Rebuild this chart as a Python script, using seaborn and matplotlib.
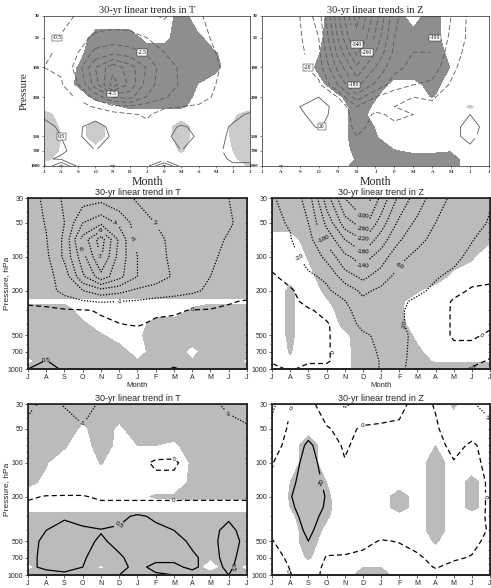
import numpy as np
import matplotlib
matplotlib.use("Agg")
import matplotlib.pyplot as plt
from matplotlib.ticker import NullLocator, NullFormatter
import seaborn as sns

# grid: 13 months (Jul..Jul) x 13 pressure levels (top row = 30 hPa)
months = ["J", "A", "S", "O", "N", "D", "J", "F", "M", "A", "M", "J", "J"]
pressure = [30, 50, 70, 100, 150, 200, 250, 300, 400, 500, 700, 850, 1000]
p_ticks = [30, 50, 100, 200, 500, 700, 1000]

# --- top row: 30-yr linear trends (first figure) ---
t_top = [
    [0.0, -0.2, -0.6, -0.8, -0.9, -1.0, -0.7, -0.4, -1.0, -0.6, -0.2, 0.1, 0.2],
    [-0.2, -0.6, -1.0, -1.8, -2.0, -1.8, -1.5, -1.2, -1.3, -0.9, -0.3, 0.0, 0.1],
    [-0.3, -0.7, -1.5, -2.8, -3.2, -3.0, -2.3, -1.5, -1.4, -1.1, -0.5, -0.1, 0.0],
    [-0.5, -0.6, -2.0, -4.5, -6.2, -5.0, -3.4, -1.8, -1.4, -1.2, -0.6, -0.2, -0.1],
    [-0.3, -0.4, -1.5, -4.0, -7.0, -5.2, -3.0, -1.9, -1.4, -1.0, -0.5, -0.2, -0.1],
    [-0.1, -0.2, -0.6, -1.8, -3.5, -3.8, -2.4, -1.6, -1.1, -0.8, -0.4, -0.1, 0.0],
    [0.1, 0.0, -0.2, -0.6, -1.2, -1.3, -0.9, -0.6, -0.5, -0.4, -0.2, 0.0, 0.2],
    [0.4, 0.2, 0.1, 0.2, -0.1, -0.4, -0.6, -0.2, -0.1, 0.0, 0.1, 0.3, 0.6],
    [0.7, 0.4, 0.4, 0.8, 0.3, 0.0, -0.3, 0.2, 0.6, 0.3, 0.2, 0.6, 0.8],
    [0.9, 0.5, 0.4, 0.9, 0.4, 0.0, -0.2, 0.3, 0.8, 0.4, 0.2, 0.7, 1.0],
    [1.0, 0.6, 0.3, 0.5, 0.3, 0.0, -0.3, 0.2, 0.5, 0.2, 0.3, 0.8, 1.0],
    [0.6, 0.4, 0.1, 0.2, 0.1, -0.2, -0.4, 0.1, 0.2, 0.1, 0.3, 0.6, 0.7],
    [0.3, 2.8, 0.2, 0.0, -0.6, 0.1, 0.2, 2.8, 0.1, 0.0, 0.2, 0.4, 0.3],
]
t_top_sig = [
    [0, 0, 0, 0, 0, 0, 0, 0, -1, 0, 0, 0, 0],
    [0, 0, 0, -1, -1, -1, -0.3, -0.3, -1, -0.8, 0, 0, 0],
    [0, 0, -0.3, -1, -1, -1, -1, -1, -1, -1, -0.6, 0, 0],
    [0, 0, -0.6, -1, -1, -1, -1, -1, -1, -1, -0.8, 0, 0],
    [0, 0, -0.7, -1, -1, -1, -1, -1, -1, -0.5, 0, 0, 0],
    [0, 0, 0, -0.9, -1, -1, -1, -1, -1, -0.3, 0, 0, 0],
    [0, 0, 0, 0, -0.4, -0.8, -0.8, -0.8, -0.8, 0, 0, 0, 0],
    [1, 0, 0, 0, 0, 0, 0, 0, 0, 0, 0, 0.3, 1],
    [1, 0.4, 0, 1, 0, 0, 0, 0, 1, 0, 0, 0.6, 1],
    [1, 0.5, 0, 1, 0, 0, 0, 0, 1, 0, 0, 0.6, 1],
    [1, 0.4, 0, 0, 0, 0, 0, 0, 0.6, 0, 0, 0.5, 1],
    [0.8, 0, 0, 0, 0, 0, 0, 0, 0, 0, 0, 0.3, 1],
    [0, 0, 0, 0, 0, 0, 0, 0, 0, 0, 0, 0, 0.6],
]
z_top = [
    [0, -5, -20, -80, -250, -400, -280, -150, -110, -110, -60, -10, 10],
    [5, 2, -15, -60, -220, -360, -250, -140, -110, -110, -50, -10, 5],
    [10, 5, -10, -50, -190, -310, -220, -130, -100, -100, -40, -5, 5],
    [15, 10, -5, -40, -150, -250, -180, -110, -90, -80, -30, 2, 10],
    [20, 15, 2, -10, -100, -190, -130, -80, -60, -50, -15, 10, 15],
    [18, 18, 15, 20, -20, -120, -60, -30, -20, -25, 2, 15, 20],
    [15, 18, 20, 25, 16, -60, -30, -20, -15, -10, 5, 20, 20],
    [10, 15, 18, 25, 15, -40, -15, -25, -20, -5, 10, 20, 20],
    [5, 10, 12, 22, 10, -30, -10, -15, -10, 2, 15, 25, 15],
    [2, 5, 8, 10, 2, -20, -5, -5, 2, 5, 15, 25, 10],
    [2, 5, 5, 2, -5, -15, -5, 2, 5, 2, 10, 15, 5],
    [-5, 5, 2, -5, -5, -10, -5, -5, 2, -5, 5, 10, 2],
    [-10, 10, -5, -10, -5, -10, -10, -5, -5, -5, 2, 5, 2],
]
z_top_sig = [
    [0, 0, 0, -0.3, -1, -1, -1, -1, -0.2, -1, 0, 0, 0],
    [0, 0, 0, -0.4, -1, -1, -1, -1, -1, -1, 0, 0, 0],
    [0, 0, 0, -0.5, -1, -1, -1, -1, -1, -1, -0.3, 0, 0],
    [0, 0, 0, -0.7, -1, -1, -1, -1, -1, -1, -0.5, 0, 0],
    [0, 0, 0, -0.3, -1, -1, -1, -0.3, -0.3, -0.8, -0.2, 0, 0],
    [0, 0, 0, 0, -0.4, -1, -0.6, 0, 0, -0.6, 0, 0, 0],
    [0, 0, 0, 0, 0, -1, -0.4, 0, 0, 0, 0, 0.6, 0],
    [0, 0, 0, 0, 0, -1, -0.2, 0, 0, 0, 0, 0, 0],
    [0, 0, 0, 0, 0, -1, -0.5, 0, 0, 0, 0, 0, 0],
    [0, 0, 0, 0, 0, -1, -0.6, 0, 0, 0, 0, 0, 0],
    [0, 0, 0, 0, 0, -0.8, -1, -0.6, -0.4, -0.4, -0.5, 0, 0],
    [0, 0, 0, 0, 0, -0.6, -1, -1, -1, -1, -1, 0, 0],
    [0, -0.7, 0, 0, 0, -1, -1, -1, -1, -1, -1, 0, 0],
]

# --- middle row: 30-yr linear trend ---
t_mid = [
    [-0.6, -1.2, -2.2, -2.6, -2.7, -2.3, -1.9, -1.7, -1.5, -1.4, -1.2, -1.0, -0.8],
    [-0.6, -1.05, -2.0, -4.0, -4.8, -3.8, -2.5, -2.0, -1.7, -1.5, -1.3, -1.1, -0.7],
    [-0.5, -0.95, -2.2, -5.4, -7.5, -4.8, -2.6, -2.2, -1.8, -1.6, -1.3, -0.9, -0.6],
    [-0.4, -0.8, -2.2, -4.6, -7.1, -4.6, -3.0, -2.3, -1.8, -1.6, -1.2, -0.7, -0.5],
    [-0.3, -0.7, -1.4, -3.8, -5.6, -4.3, -3.0, -2.4, -1.9, -1.6, -1.0, -0.6, -0.4],
    [-0.3, -0.6, -1.3, -2.0, -2.6, -2.3, -1.8, -1.6, -1.4, -1.2, -0.8, -0.5, -0.3],
    [-0.1, -0.2, -0.6, -0.9, -1.1, -1.0, -0.9, -0.7, -0.6, -0.4, -0.3, -0.05, 0.05],
    [0.15, 0.15, 0.1, 0.05, -0.05, -0.2, -0.35, -0.1, -0.05, 0.02, 0.05, 0.1, 0.15],
    [0.2, 0.2, 0.2, 0.15, 0.1, 0.02, -0.05, 0.1, 0.1, 0.15, 0.15, 0.2, 0.2],
    [0.25, 0.25, 0.25, 0.25, 0.25, 0.25, 0.25, 0.25, 0.25, 0.25, 0.25, 0.25, 0.25],
    [0.3, 0.3, 0.3, 0.3, 0.3, 0.3, 0.3, 0.3, 0.3, 0.3, 0.3, 0.3, 0.3],
    [0.35, 0.52, 0.3, 0.3, 0.3, 0.3, 0.3, 0.3, 0.35, 0.3, 0.3, 0.3, 0.3],
    [0.5, 0.75, 0.4, 0.3, 0.3, 0.3, 0.3, 0.35, 0.55, 0.35, 0.3, 0.3, 0.3],
]
t_mid_sig = [
    [1, 1, 1, 1, 1, 1, 1, 1, 1, 1, 1, 1, 1],
    [1, 1, 1, 1, 1, 1, 1, 1, 1, 1, 1, 1, 1],
    [1, 1, 1, 1, 1, 1, 1, 1, 1, 1, 1, 1, 1],
    [1, 1, 1, 1, 1, 1, 1, 1, 1, 1, 1, 1, 1],
    [1, 1, 1, 1, 1, 1, 1, 1, 1, 1, 1, 1, 1],
    [1, 1, 1, 1, 1, 1, 1, 1, 1, 1, 1, 1, 1],
    [0.3, 0.3, 0.3, 0.3, 0.3, 0.3, 0.3, 0.3, 0.3, 0.3, 0.3, 0.3, 0.3],
    [1, 1, 1, 0, 0, 0, 0, 0, 0, 0.6, 1, 1, 1],
    [1, 1, 1, 0.7, 0, 0, 0, 1, 1, 1, 1, 1, 1],
    [1, 1, 1, 1, 0.6, 0, 0.3, 1, 1, 1, 1, 1, 1],
    [1, 1, 1, 1, 1, 1, 0, 1, 1, 0.2, 1, 1, 1],
    [0.2, 1, 0.45, 1, 1, 1, 0.6, 1, 1, 0.6, 1, 1, 0.3],
    [1, 1, 1, 1, 1, 1, 1, 1, 1, 1, 1, 1, 1],
]
z_mid = [
    [-18, -28, -80, -200, -300, -340, -250, -170, -120, -80, -50, -30, -22],
    [-15, -22, -60, -150, -240, -280, -200, -130, -90, -60, -40, -28, -18],
    [-10, -18, -45, -110, -180, -220, -160, -105, -70, -50, -35, -21, -12],
    [-5, -10, -30, -70, -130, -160, -120, -70, -50, -35, -25, -15, -5],
    [2, -5, -15, -25, -80, -110, -80, -45, -35, -22, -15, -5, -2],
    [5, 2, -8, -15, -35, -70, -50, -30, -25, -15, -5, 2, 2],
    [5, 5, -5, -10, -18, -50, -35, -25, -15, -10, 2, 5, 2],
    [5, 5, 2, -5, -12, -35, -30, -22, -15, -8, 2, 5, 2],
    [5, 5, 2, 2, -10, -25, -26, -22, -15, -8, 2, 5, 2],
    [5, 5, 2, 2, -8, -17, -24, -24, -16, -8, 2, 2, -2],
    [5, 5, 5, 2, -8, -14, -22, -24, -15, -10, -5, -5, -5],
    [2, 5, 2, 2, -8, -12, -21, -24, -14, -10, -8, -5, 2],
    [-5, 2, -5, -5, -8, -12, -21, -23, -14, -12, -8, 2, 2],
]
z_mid_sig = [
    [1, 1, 1, 1, 1, 1, 1, 1, 1, 1, 1, 1, 1],
    [1, 1, 1, 1, 1, 1, 1, 1, 1, 1, 1, 1, 1],
    [0, 0, 1, 1, 1, 1, 1, 1, 1, 1, 1, 1, 0.6],
    [0, 0, 0.55, 1, 1, 1, 1, 1, 1, 1, 1, 0.6, 0],
    [0, 0.3, 0.2, 1, 1, 1, 1, 1, 1, 1, 0.2, 0, 0],
    [0, 0.65, 0, 0.7, 1, 1, 1, 1, 0.6, 0, 0, 0, 0],
    [0, 0.65, 0, 0.4, 1, 1, 1, 0.7, 0, 0, 0, 0, 0],
    [0, 0.65, 0, 0.1, 1, 1, 1, 0.65, 0, 0, 0, 0, 0],
    [0, 0.65, 0, 0, 0.7, 1, 1, 0.8, 0, 0, 0, 0, 0],
    [0, 0.65, 0, 0, 0.3, 1, 1, 1, 0.3, 0, 0, 0, 0],
    [0, 0.55, 0, 0, 0.2, 1, 1, 1, 0.7, 0, 0, 0, 0],
    [0, 0.4, 0, 0, 0.2, 1, 1, 1, 0.8, 0.4, 0.4, 0.4, 0.4],
    [0, 0, 0, 0, 0.2, 1, 1, 1, 1, 1, 1, 1, 1],
]

# --- bottom row: 30-yr linear trend ---
t_bot = [
    [-1.15, -0.8, -1.05, -1.3, -0.9, -0.9, -0.8, -0.7, -0.7, -0.8, -0.9, -1.1, -1.3],
    [-0.8, -0.6, -0.6, -0.9, -0.6, -0.5, -0.6, -0.6, -0.6, -0.6, -0.7, -0.8, -0.9],
    [-0.6, -0.4, -0.3, -0.4, -0.4, -0.3, -0.4, -0.4, -0.3, -0.5, -0.6, -0.6, -0.7],
    [-0.5, -0.3, -0.2, -0.2, -0.3, -0.2, -0.2, 0.1, 0.1, -0.3, -0.5, -0.5, -0.5],
    [-0.4, -0.3, -0.2, -0.2, -0.3, -0.2, -0.2, -0.2, -0.2, -0.3, -0.4, -0.4, -0.4],
    [-0.05, 0.02, 0.02, 0.02, -0.05, -0.05, -0.05, -0.05, -0.05, -0.05, -0.05, -0.05, -0.05],
    [0.1, 0.1, 0.1, 0.1, 0.1, 0.1, 0.1, 0.1, 0.1, 0.1, 0.1, 0.1, 0.1],
    [0.25, 0.3, 0.45, 0.3, 0.3, 0.35, 0.6, 0.4, 0.3, 0.25, 0.3, 0.45, 0.3],
    [0.3, 0.5, 0.65, 0.6, 0.52, 0.6, 0.7, 0.65, 0.5, 0.4, 0.4, 0.6, 0.35],
    [0.35, 0.6, 0.7, 0.6, 0.45, 0.6, 0.7, 0.7, 0.6, 0.45, 0.4, 0.65, 0.4],
    [0.4, 0.6, 0.7, 0.55, 0.3, 0.45, 0.65, 0.6, 0.55, 0.55, 0.4, 0.6, 0.35],
    [0.45, 0.55, 0.65, 0.5, 0.3, 0.4, 0.6, 0.4, 0.45, 0.55, 0.4, 0.55, 0.35],
    [0.5, 0.4, 0.4, 0.4, 0.35, 0.5, 0.6, 0.55, 0.5, 0.4, 0.3, 0.5, 0.3],
]
t_bot_sig = [
    [1, 1, 1, 1, 1, 1, 1, 1, 1, 1, 1, 1, 1],
    [1, 1, 1, 0.3, 1, 0.3, 1, 1, 1, 1, 1, 1, 1],
    [1, 1, 0.6, 0, 1, 0.2, 0.5, 0.5, 0.3, 1, 1, 1, 1],
    [1, 0.55, 0, 0, 0.55, 0, 0, 0, 0, 0.6, 1, 1, 1],
    [0.7, 0.3, 0, 0, 0, 0, 0, 0, 0, 0.7, 1, 1, 1],
    [0, 0, 0, 0, 0, 0, 0.3, 0.6, 0.6, 0.7, 0.7, 0.7, 0.7],
    [0, 0, 0, 0, 0, 0, 0, 0, 0, 0, 0, 0, 0],
    [1, 1, 1, 1, 1, 1, 1, 1, 1, 1, 1, 1, 1],
    [1, 1, 1, 1, 1, 1, 1, 1, 1, 1, 1, 1, 1],
    [1, 1, 1, 1, 1, 1, 1, 1, 1, 1, 1, 1, 1],
    [1, 1, 1, 1, 1, 1, 1, 1, 1, 1, 0.6, 1, 1],
    [0.2, 1, 1, 1, 0.35, 1, 1, 1, 1, 1, 0, 1, 0.2],
    [1, 1, 1, 1, 1, 1, 1, 1, 1, 1, 1, 1, 1],
]
z_bot = [
    [-25, -0.5, 6, -10, -22, -15, -8, -4, 5, -1, -15, -18, -28],
    [-12, 3, 12, 2, -6, 3, 3, 3, 6, 2, -8, -5, -12],
    [-6, 5, 24, 8, -2, 5, 8, 8, 10, 5, -4, 2, -5],
    [-1, 12, 27, 13, 1, 6, 8, 8, 10, 6, 1, 4, -4],
    [2, 16, 29, 17, 5, 5, 8, 9, 12, 7, 5, 6, -2],
    [3, 19, 30, 19, 6, 5, 8, 10, 10, 8, 6, 6, -2],
    [3, 17, 29, 18, 6, 5, 8, 9, 9, 8, 6, 6, -2],
    [3, 14, 27, 15, 6, 5, 6, 7, 7, 7, 5, 5, -2],
    [2, 10, 24, 10, 5, 4, 3, 4, 5, 5, 4, 4, -1],
    [-0.5, 5, 20, 6, 4, 2, -0.5, 0.3, 2, 3, 3, 2, -2],
    [-4, 2, 12, -1, -1, -2, -3, -3, -1, 2, 1, -0.5, -3],
    [-6, 0.5, 5, -2, -3, -4, -5, -4, -3, 0.5, -2, -3, -3],
    [-8, -0.5, 5, -3, -4, -5, -5, -4, -3, -3, -3, -3, -3],
]
z_bot_sig = [
    [0, 0, 0, 0, 0, 0, 0, 0, 0, 0, 0.6, 0, 0],
    [0, 0, 0.2, 0, 0, 0, 0, 0, 0, 0, 0, 0, 0],
    [0, 0, 1, 0, 0, 0, 0, 0, 0, 0.5, 0, 0, 0],
    [0, 0, 1, 0, 0, 0, 0, 0, 0, 1, 0, 0, 0],
    [0, 0.5, 1, 0.5, 0, 0, 0, 0, 0, 1, 0, 0.8, 0],
    [0, 0.55, 1, 0.65, 0, 0, 0, 1, 0, 1, 0, 0.8, 0],
    [0, 0.5, 1, 0.7, 0, 0, 0, 1, 0, 1, 0, 0.8, 0],
    [0, 0.3, 1, 0.6, 0, 0, 0, 0, 0, 1, 0, 0, 0],
    [0, 0, 1, 0.3, 0, 0, 0, 0, 0, 1, 0, 0, 0],
    [0, 0, 1, 0, 0, 0, 0, 0, 0, 0.6, 0, 0, 0],
    [0, 0, 0.6, 0, 0, 0, 0, 0, 0, 0, 0, 0, 0],
    [0, 0, 0, 0, 0, 0.45, 0.45, 0, 0, 0, 0, 0, 0],
    [0, 0, 0, 0, 0, 1, 1, 0, 0, 0, 0, 0, 0],
]

sns.set_theme(style="ticks")
SERIF = ["Liberation Serif", "DejaVu Serif"]
SANS = ["Liberation Sans", "DejaVu Sans"]
plt.rcParams["font.family"] = SANS

x = np.arange(len(months))
P = np.array(pressure, dtype=float)
DARK, LIGHT, MID = "#8e8e8e", "#cbcbcb", "#bbbbbb"

fig = plt.figure(figsize=(4.91, 5.88), dpi=100)


def set_pressure_axis(ax):
    ax.set_yscale("log")
    ax.set_ylim(1000, 30)
    ax.set_xlim(0, 12)
    ax.set_yticks(p_ticks, [str(p) for p in p_ticks])
    ax.set_xticks(x, months)


def top_panel(rect, field, sig, levels, lab_levels, title, ylabel):
    ax = fig.add_axes(rect)
    ax.contourf(x, P, np.array(sig), levels=[-2, -0.5, 0.5, 2],
                colors=[DARK, "white", LIGHT])
    styles = [(0, (6, 3)) if lv < 0 else "solid" for lv in levels]
    cs = ax.contour(x, P, np.array(field), levels=levels, colors="#5a5a5a",
                    linewidths=0.6, linestyles=styles)
    texts = ax.clabel(cs, levels=lab_levels, fmt="%g", fontsize=4, inline=True,
                      inline_spacing=1)
    seen = set()
    for t in texts:
        key = t.get_text()
        if key in seen:
            t.set_visible(False)
            continue
        seen.add(key)
        t.set_rotation(0)
        t.set_family(SERIF)
        t.set_color("black")
        t.set_bbox(dict(boxstyle="square,pad=0.15", fc="white", ec="black", lw=0.3))
    set_pressure_axis(ax)
    ax.yaxis.set_minor_locator(NullLocator())
    ax.grid(True, ls=":", lw=0.4, color="#bdbdbd")
    ax.tick_params(labelsize=3.5, length=1.5, width=0.4, pad=1.5)
    for lab in ax.get_xticklabels() + ax.get_yticklabels():
        lab.set_family(SERIF)
        lab.set_fontweight("bold")
    for sp in ax.spines.values():
        sp.set_linewidth(0.5)
    ax.set_title(title, family=SERIF, fontsize=7.5, pad=2)
    ax.set_xlabel("Month", family=SERIF, fontsize=8.5, labelpad=1)
    if ylabel:
        ax.set_ylabel(ylabel, family=SERIF, fontsize=8, labelpad=1)
    return ax


def lower_panel(rect, field, sig, levels, title, ylabel):
    ax = fig.add_axes(rect)
    ax.contourf(x, P, np.array(sig), levels=[0.5, 2], colors=[MID])
    styles = []
    for lv in levels:
        if lv < 0:
            styles.append((0, (1, 1.3)))
        elif lv == 0:
            styles.append((0, (4, 2.5)))
        else:
            styles.append("solid")
    cs = ax.contour(x, P, np.array(field), levels=levels, colors="black",
                    linewidths=0.9, linestyles=styles)
    ax.clabel(cs, fmt="%g", fontsize=4.5, inline=True, inline_spacing=1)
    set_pressure_axis(ax)
    ax.yaxis.set_minor_formatter(NullFormatter())
    ax.tick_params(labelsize=5, length=2, width=0.5, pad=1.5)
    ax.tick_params(axis="y", which="minor", length=1.3, width=0.4)
    for sp in ax.spines.values():
        sp.set_linewidth(0.6)
    ax.spines["bottom"].set_linewidth(1.4)
    ax2 = ax.twinx()
    ax2.set_yscale("log")
    ax2.set_ylim(1000, 30)
    ax2.set_yticks(p_ticks, [])
    ax2.yaxis.set_minor_formatter(NullFormatter())
    ax2.tick_params(axis="y", which="both", direction="in", length=1.5, width=0.4)
    ax2.grid(False)
    ax.set_title(title, fontsize=6.5, pad=2)
    ax.set_xlabel("Month", fontsize=5.5, labelpad=0.5)
    if ylabel:
        ax.set_ylabel(ylabel, fontsize=6)
        ax.yaxis.set_label_coords(-0.082, 0.5)
    return ax


t_levels_top = [-7.5, -6.5, -5.5, -4.5, -3.5, -2.5, -1.5, -0.5, 0.5, 1.5, 2.5]
z_levels_top = [-380, -340, -300, -260, -220, -180, -140, -100, -60, -20, 20, 60]
t_levels = [-7, -6, -5, -4, -3, -2, -1, 0, 0.5]
z_levels = [-340, -300, -260, -220, -180, -140, -100, -60, -20, 0, 20]

top_panel([0.0896, 0.7177, 0.4196, 0.2551], t_top, t_top_sig, t_levels_top,
          [-6.5, -4.5, -2.5, -0.5, 0.5], "30-yr linear trends in T", "Pressure")
top_panel([0.5336, 0.7177, 0.4623, 0.2551], z_top, z_top_sig, z_levels_top,
          [-340, -260, -180, -100, -20, 20], "30-yr linear trends in Z", None)

lower_panel([0.057, 0.3724, 0.446, 0.2908], t_mid, t_mid_sig, t_levels,
            "30-yr linear trend in T", "Pressure, hPa")
lower_panel([0.554, 0.3724, 0.444, 0.2908], z_mid, z_mid_sig, z_levels,
            "30-yr linear trend in Z", None)
lower_panel([0.057, 0.0221, 0.446, 0.2908], t_bot, t_bot_sig, t_levels,
            "30-yr linear trend in T", "Pressure, hPa")
lower_panel([0.554, 0.0221, 0.444, 0.2908], z_bot, z_bot_sig, z_levels,
            "30-yr linear trend in Z", None)

fig.savefig("out.png", dpi=100)
